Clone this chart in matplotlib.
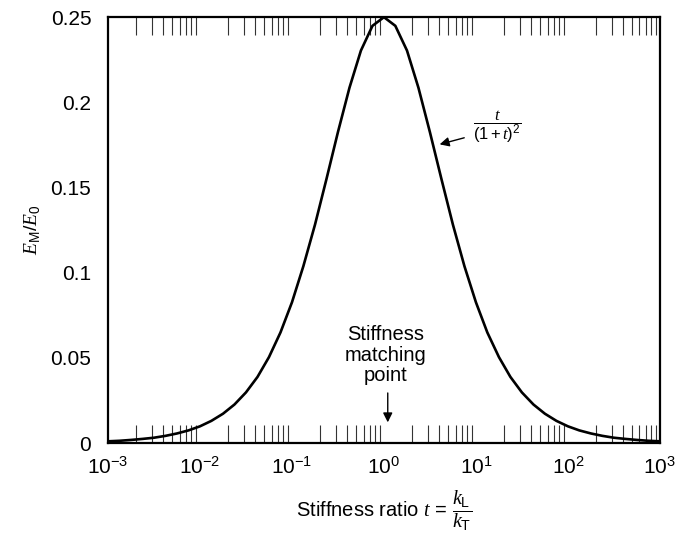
import matplotlib
matplotlib.use("Agg")
import matplotlib.pyplot as plt
from matplotlib.ticker import LogLocator, NullFormatter

plt.rcParams['font.family'] = ['Liberation Sans', 'DejaVu Sans']
plt.rcParams['mathtext.fontset'] = 'custom'
plt.rcParams['mathtext.rm'] = 'Liberation Sans'
plt.rcParams['mathtext.it'] = 'Liberation Serif:italic'
plt.rcParams['mathtext.default'] = 'regular'

# Data
t_values = [0.001, 0.00133, 0.00178, 0.00237, 0.00316, 0.00422, 0.00562, 0.0075,
            0.01, 0.0133, 0.0178, 0.0237, 0.0316, 0.0422, 0.0562, 0.075,
            0.1, 0.133, 0.178, 0.237, 0.316, 0.422, 0.562, 0.75,
            1.0, 1.33, 1.78, 2.37, 3.16, 4.22, 5.62, 7.5,
            10.0, 13.3, 17.8, 23.7, 31.6, 42.2, 56.2, 75.0,
            100.0, 133.0, 178.0, 237.0, 316.0, 422.0, 562.0, 750.0, 1000.0]
energy_ratio = [0.0010, 0.0013, 0.0018, 0.0024, 0.0031, 0.0042, 0.0056, 0.0074,
                0.0098, 0.0130, 0.0172, 0.0226, 0.0297, 0.0388, 0.0504, 0.0649,
                0.0826, 0.1038, 0.1282, 0.1549, 0.1825, 0.2086, 0.2304, 0.2449,
                0.2500, 0.2449, 0.2304, 0.2086, 0.1825, 0.1549, 0.1282, 0.1038,
                0.0826, 0.0649, 0.0504, 0.0388, 0.0297, 0.0226, 0.0172, 0.0130,
                0.0098, 0.0074, 0.0056, 0.0042, 0.0031, 0.0024, 0.0018, 0.0013, 0.0010]
x_ticks = [1e-3, 1e-2, 1e-1, 1e0, 1e1, 1e2, 1e3]
x_tick_labels = [r'$10^{-3}$', r'$10^{-2}$', r'$10^{-1}$', r'$10^{0}$',
                 r'$10^{1}$', r'$10^{2}$', r'$10^{3}$']
y_ticks = [0, 0.05, 0.1, 0.15, 0.2, 0.25]
y_tick_labels = ['0', '0.05', '0.1', '0.15', '0.2', '0.25']

fig = plt.figure(figsize=(6.81, 5.36), dpi=100)
ax = fig.add_axes([0.1586, 0.1735, 0.8104, 0.7945])

ax.plot(t_values, energy_ratio, color='black', lw=1.9)
ax.set_xscale('log')
ax.set_xlim(1e-3, 1e3)
ax.set_ylim(0, 0.25)
ax.set_xticks(x_ticks)
ax.set_xticklabels(x_tick_labels)
ax.set_yticks(y_ticks)
ax.set_yticklabels(y_tick_labels)

ax.xaxis.set_minor_locator(LogLocator(base=10, subs=range(2, 10), numticks=100))
ax.xaxis.set_minor_formatter(NullFormatter())
ax.tick_params(axis='x', which='major', length=0, labelsize=15, pad=9)
ax.tick_params(axis='x', which='minor', direction='in', length=13, width=0.8,
               top=True, bottom=True, color='#333333')
ax.tick_params(axis='y', which='both', length=0, labelsize=15, pad=12)

for s in ax.spines.values():
    s.set_linewidth(1.6)

ax.set_ylabel(r'$\mathit{E}_{\mathrm{M}}/\mathit{E}_0$', fontsize=14, labelpad=6)
ax.set_xlabel(r'Stiffness ratio $\mathit{t}$ = $\dfrac{\mathit{k}_{\mathrm{L}}}{\mathit{k}_{\mathrm{T}}}$',
              fontsize=14.5, labelpad=8)

ax.annotate('', xy=(3.77, 0.1749), xytext=(7.98, 0.1796),
            arrowprops=dict(arrowstyle='-|>', color='black', lw=1.0, mutation_scale=14))
ax.text(17.0, 0.186, r'$\dfrac{\mathit{t}}{(1+\mathit{t})^2}$', fontsize=12,
        ha='center', va='center')

ax.text(1.05, 0.0516, 'Stiffness\nmatching\npoint', fontsize=14.5, ha='center', va='center',
        linespacing=1.1)
ax.annotate('', xy=(1.1, 0.0105), xytext=(1.1, 0.031),
            arrowprops=dict(arrowstyle='-|>', color='black', lw=1.0, mutation_scale=14))

fig.savefig('out.png', dpi=100)
